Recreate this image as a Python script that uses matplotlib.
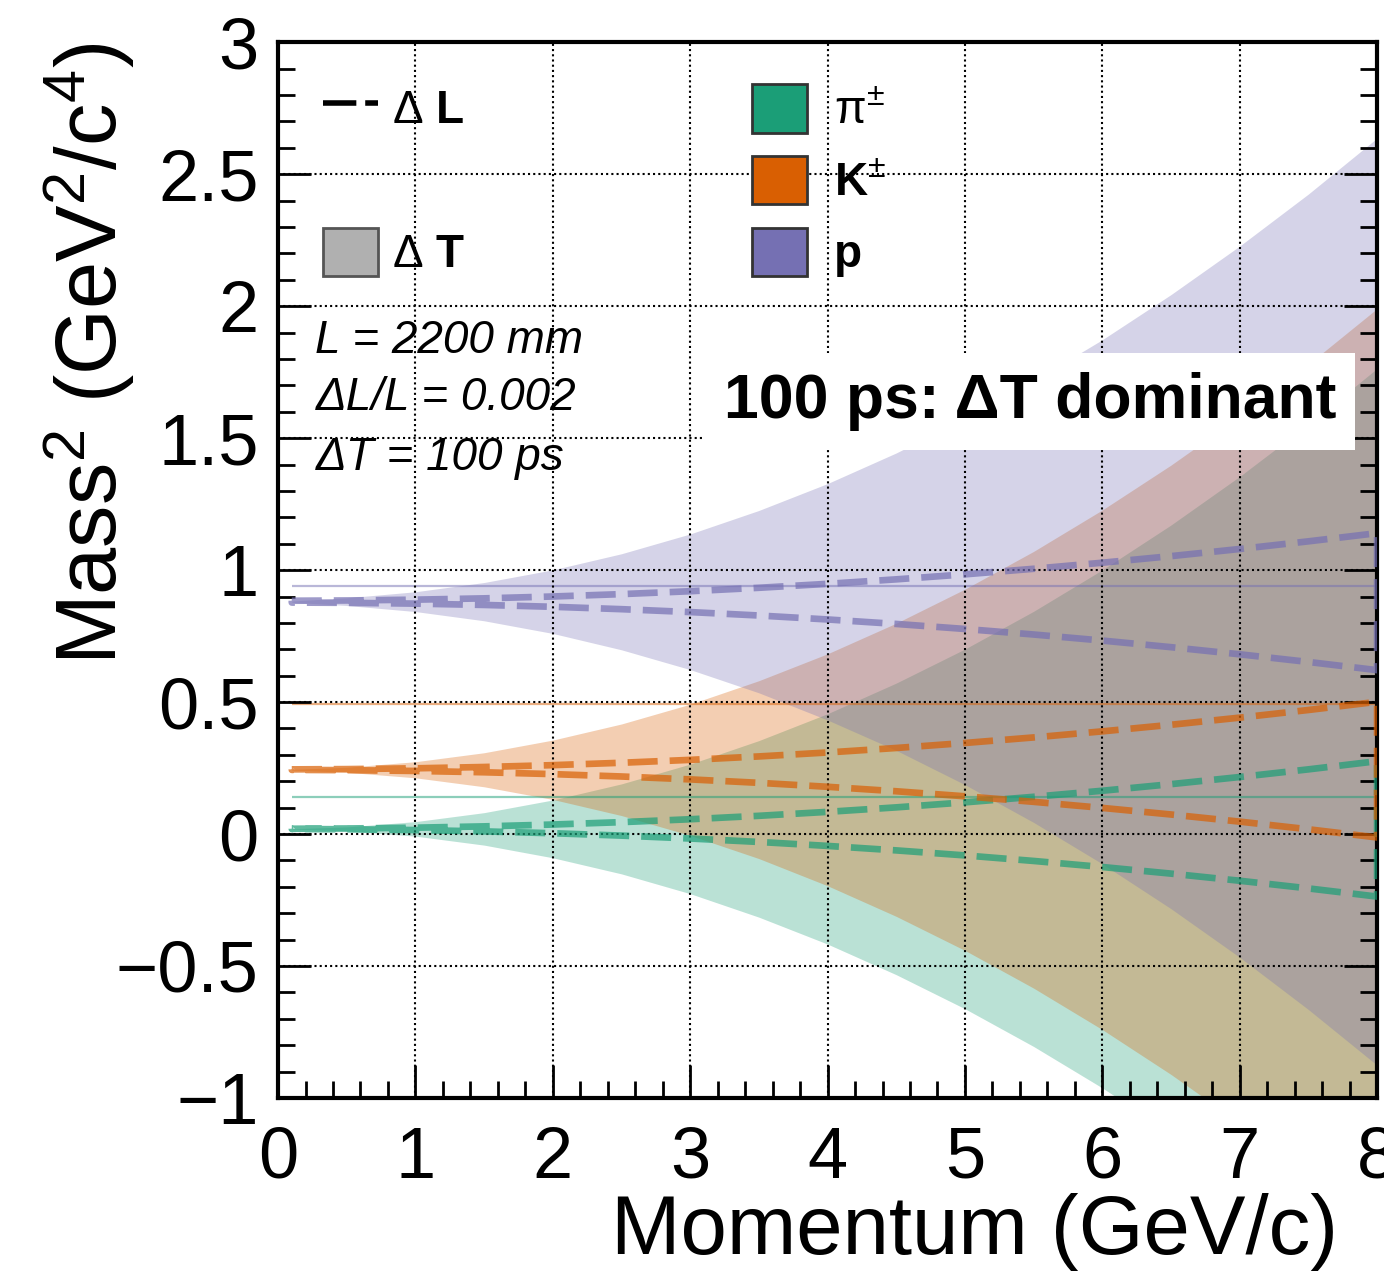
import numpy as np
import matplotlib
matplotlib.use('Agg')
import matplotlib.pyplot as plt
from matplotlib.lines import Line2D
from matplotlib.patches import Patch
from matplotlib.ticker import MultipleLocator, FuncFormatter

plt.rcParams['font.family'] = ['Liberation Sans', 'DejaVu Sans']
plt.rcParams['mathtext.fontset'] = 'custom'
plt.rcParams['mathtext.rm'] = 'Liberation Sans'
plt.rcParams['mathtext.it'] = 'Liberation Sans:italic'
plt.rcParams['mathtext.bf'] = 'Liberation Sans:bold'

# momentum points (GeV/c)
p = [0.1, 0.5, 1.0, 1.5, 2.0, 2.5, 3.0, 3.5, 4.0, 4.5, 5.0, 5.5, 6.0, 6.5, 7.0, 7.5, 8.0]

# dT = 100 ps bands (mass^2 upper / lower edge)
pi_T_hi = [0.020, 0.027, 0.047, 0.081, 0.129, 0.190, 0.265, 0.354, 0.456, 0.572, 0.701, 0.844, 1.001, 1.171, 1.355, 1.553, 1.764]
pi_T_lo = [0.019, 0.012, -0.008, -0.042, -0.090, -0.151, -0.226, -0.315, -0.417, -0.533, -0.662, -0.805, -0.962, -1.132, -1.316, -1.514, -1.725]
k_T_hi = [0.245, 0.253, 0.274, 0.308, 0.356, 0.417, 0.492, 0.581, 0.683, 0.799, 0.928, 1.071, 1.228, 1.398, 1.582, 1.780, 1.991]
k_T_lo = [0.242, 0.234, 0.213, 0.179, 0.131, 0.070, -0.005, -0.093, -0.196, -0.312, -0.441, -0.584, -0.741, -0.911, -1.095, -1.293, -1.504]
pr_T_hi = [0.883, 0.895, 0.918, 0.953, 1.001, 1.062, 1.137, 1.226, 1.328, 1.444, 1.574, 1.717, 1.873, 2.044, 2.228, 2.425, 2.637]
pr_T_lo = [0.878, 0.866, 0.843, 0.808, 0.760, 0.698, 0.623, 0.535, 0.432, 0.317, 0.187, 0.044, -0.113, -0.283, -0.467, -0.665, -0.876]

# dL/L = 0.002 bands (dashed outline)
pi_L_hi = [0.020, 0.021, 0.024, 0.029, 0.036, 0.045, 0.056, 0.069, 0.084, 0.101, 0.120, 0.141, 0.164, 0.189, 0.216, 0.245, 0.276]
pi_L_lo = [0.019, 0.018, 0.015, 0.010, 0.003, -0.006, -0.017, -0.030, -0.045, -0.062, -0.081, -0.102, -0.125, -0.150, -0.177, -0.206, -0.237]
k_L_hi = [0.245, 0.246, 0.249, 0.254, 0.261, 0.270, 0.281, 0.294, 0.309, 0.326, 0.345, 0.366, 0.389, 0.414, 0.441, 0.470, 0.501]
k_L_lo = [0.243, 0.242, 0.239, 0.234, 0.227, 0.218, 0.207, 0.194, 0.179, 0.162, 0.143, 0.122, 0.099, 0.074, 0.047, 0.018, -0.013]
pr_L_hi = [0.884, 0.885, 0.888, 0.893, 0.900, 0.909, 0.920, 0.933, 0.948, 0.965, 0.984, 1.005, 1.028, 1.053, 1.080, 1.109, 1.140]
pr_L_lo = [0.877, 0.876, 0.873, 0.868, 0.861, 0.852, 0.841, 0.828, 0.813, 0.796, 0.777, 0.756, 0.733, 0.708, 0.681, 0.652, 0.621]

# thin reference lines (particle mass, GeV)
mass_lines = [0.1396, 0.4937, 0.9383]

labels = [r'$\mathrm{\pi}^{\pm}$', r'K$^{\pm}$', 'p']
colors = ['#1b9e77', '#d95f02', '#7570b3']

T_hi = [pi_T_hi, k_T_hi, pr_T_hi]
T_lo = [pi_T_lo, k_T_lo, pr_T_lo]
L_hi = [pi_L_hi, k_L_hi, pr_L_hi]
L_lo = [pi_L_lo, k_L_lo, pr_L_lo]

fig = plt.figure(figsize=(13.84, 12.81), dpi=100)
ax = fig.add_axes([0.2009, 0.1429, 0.7941, 0.8241])

for i in range(3):
    ax.fill_between(p, T_lo[i], T_hi[i], color=colors[i], alpha=0.3, lw=0, zorder=1)

for i in range(3):
    ax.hlines(mass_lines[i], p[0], p[-1], color=colors[i], lw=1.6, alpha=0.5, zorder=2)

for i in range(3):
    xs = np.concatenate([p, p[::-1], p[:1]])
    ys = np.concatenate([L_hi[i], L_lo[i][::-1], L_hi[i][:1]])
    ax.plot(xs, ys, color=colors[i], lw=4.8, alpha=0.7, dashes=(4.5, 1.8), zorder=3)

ax.set_xlim(0, 8)
ax.set_ylim(-1, 3)
ax.xaxis.set_major_locator(MultipleLocator(1))
ax.xaxis.set_minor_locator(MultipleLocator(0.2))
ax.yaxis.set_major_locator(MultipleLocator(0.5))
ax.yaxis.set_minor_locator(MultipleLocator(0.1))
fmt = FuncFormatter(lambda v, _: ('%g' % v).replace('-', '\u2212'))
ax.xaxis.set_major_formatter(fmt)
ax.yaxis.set_major_formatter(fmt)
ax.tick_params(which='both', direction='in', right=True, top=False, width=2, labelsize=52)
ax.tick_params(which='major', length=24)
ax.tick_params(which='minor', length=12)
ax.tick_params(axis='y', pad=14)
ax.tick_params(axis='x', pad=20)
ax.grid(True, which='major', color='black', lw=1.5, ls=(0, (1, 1.5)))
ax.set_axisbelow(False)
for s in ax.spines.values():
    s.set_linewidth(3)

ax.set_xlabel('Momentum (GeV/c)', fontsize=60, ha='right')
ax.xaxis.set_label_coords(0.9645, -0.09)
ax.set_ylabel('Mass$^{2}$ (GeV$^{2}$/c$^{4}$)', fontsize=61, ha='right')
ax.yaxis.set_label_coords(-0.128, 1.0)

# legends
h1 = [Line2D([], [], color='black', lw=4, dashes=(6, 1.6)),
      Patch(facecolor='#b0b0b0', edgecolor='#555555', lw=2)]
leg1 = ax.legend(h1, [r'$\Delta$ L', r'$\Delta$ T'], loc='upper left',
                 bbox_to_anchor=(0.041, 0.961), frameon=False,
                 prop=dict(weight='bold', size=33), handlelength=1.2,
                 handleheight=1.24, labelspacing=2.07, handletextpad=0.3,
                 borderpad=0, borderaxespad=0)
ax.add_artist(leg1)

h2 = [Patch(facecolor=c, edgecolor='#333333', lw=2) for c in colors]
ax.legend(h2, labels, loc='upper left', bbox_to_anchor=(0.431, 0.960),
          frameon=False, prop=dict(weight='bold', size=33), handlelength=1.2,
          handleheight=1.24, labelspacing=0.48, handletextpad=0.6,
          borderpad=0, borderaxespad=0)

ax.text(0.034, 0.7055, 'L = 2200 mm', style='italic', size=33, transform=ax.transAxes, va='baseline')
ax.text(0.034, 0.6515, '\u0394L/L = 0.002', style='italic', size=33, transform=ax.transAxes, va='baseline')
ax.text(0.034, 0.5947, '\u0394T = 100 ps', style='italic', size=33, transform=ax.transAxes, va='baseline')

ax.text(0.684, 0.6596, '100 ps: \u0394T dominant', weight='bold', size=45,
        ha='center', va='center', transform=ax.transAxes, zorder=10,
        bbox=dict(facecolor='white', edgecolor='none', boxstyle='square,pad=0.3'))

fig.savefig('out.png', dpi=100)
